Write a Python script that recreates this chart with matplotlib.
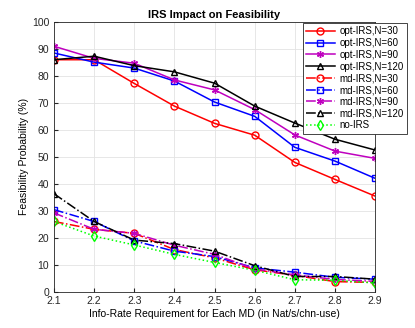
import matplotlib
matplotlib.use('Agg')
import matplotlib.pyplot as plt

rates = [2.1, 2.2, 2.3, 2.4, 2.5, 2.6, 2.7, 2.8, 2.9]

opt_30 = [86.0, 86.0, 77.2, 68.8, 62.4, 58.0, 47.9, 41.6, 35.4]
opt_60 = [88.5, 85.1, 82.9, 78.1, 70.3, 65.0, 53.5, 48.4, 42.0]
opt_90 = [91.0, 86.5, 84.7, 78.5, 74.8, 67.5, 58.1, 52.1, 49.4]
opt_120 = [86.0, 87.3, 83.8, 81.5, 77.3, 68.8, 62.5, 56.5, 52.5]

md_30 = [26.0, 23.1, 21.6, 15.6, 12.5, 8.1, 6.0, 3.7, 3.4]
md_60 = [30.4, 26.0, 18.8, 15.0, 13.0, 8.8, 7.2, 5.3, 4.6]
md_90 = [29.2, 23.1, 21.6, 17.2, 13.8, 8.4, 6.2, 4.5, 3.8]
md_120 = [36.3, 26.0, 19.1, 17.8, 15.0, 9.6, 5.6, 5.6, 4.6]
no_irs = [26.0, 20.6, 17.3, 13.8, 10.8, 7.9, 4.4, 4.2, 3.2]

labels = ['opt-IRS,N=30', 'opt-IRS,N=60', 'opt-IRS,N=90', 'opt-IRS,N=120',
          'md-IRS,N=30', 'md-IRS,N=60', 'md-IRS,N=90', 'md-IRS,N=120', 'no-IRS']

plt.rcParams['font.family'] = 'Liberation Sans'
fig = plt.figure(figsize=(4.15, 3.28), dpi=100)
ax = fig.add_axes([0.130, 0.111, 0.774, 0.822])

star = (6, 2, 0)
series = [
    (opt_30, 'r', '-', 'o'),
    (opt_60, 'b', '-', 's'),
    (opt_90, 'm', '-', star),
    (opt_120, 'k', '-', '^'),
    (md_30, 'r', '-.', 'o'),
    (md_60, 'b', '-.', 's'),
    (md_90, 'm', '-.', star),
    (md_120, 'k', '-.', '^'),
    (no_irs, (0, 1, 0), ':', 'd'),
]
for (vals, c, ls, m), lab in zip(series, labels):
    ax.plot(rates, vals, color=c, linestyle=ls, marker=m, markersize=5,
            markerfacecolor='none', markeredgewidth=1.0, linewidth=1.1, label=lab)

ax.set_xlim(2.1, 2.9)
ax.set_ylim(0, 100)
ax.set_xticks(rates)
ax.set_yticks(range(0, 101, 10))
ax.grid(True, color='#e3e3e3', linewidth=0.6)
ax.set_axisbelow(True)
ax.tick_params(labelsize=7.5, direction='in', length=3, colors='#262626')
for s in ax.spines.values():
    s.set_color('#262626')
    s.set_linewidth(0.6)
ax.set_xlabel('Info-Rate Requirement for Each MD (in Nat/s/chn-use)', fontsize=7.5, labelpad=2)
ax.set_ylabel('Feasibility Probability (%)', fontsize=7.5, labelpad=2)
ax.set_title('IRS Impact on Feasibility', fontsize=8, fontweight='bold', pad=3)
leg = ax.legend(loc='upper left', bbox_to_anchor=(0.730, 0.930), bbox_transform=fig.transFigure,
                fontsize=7, fancybox=False, edgecolor='#262626',
                handlelength=2.9, borderpad=0.35, labelspacing=0.18, handletextpad=0.5,
                borderaxespad=0, framealpha=1)
leg.get_frame().set_linewidth(0.6)

fig.savefig('out.png', dpi=100)
